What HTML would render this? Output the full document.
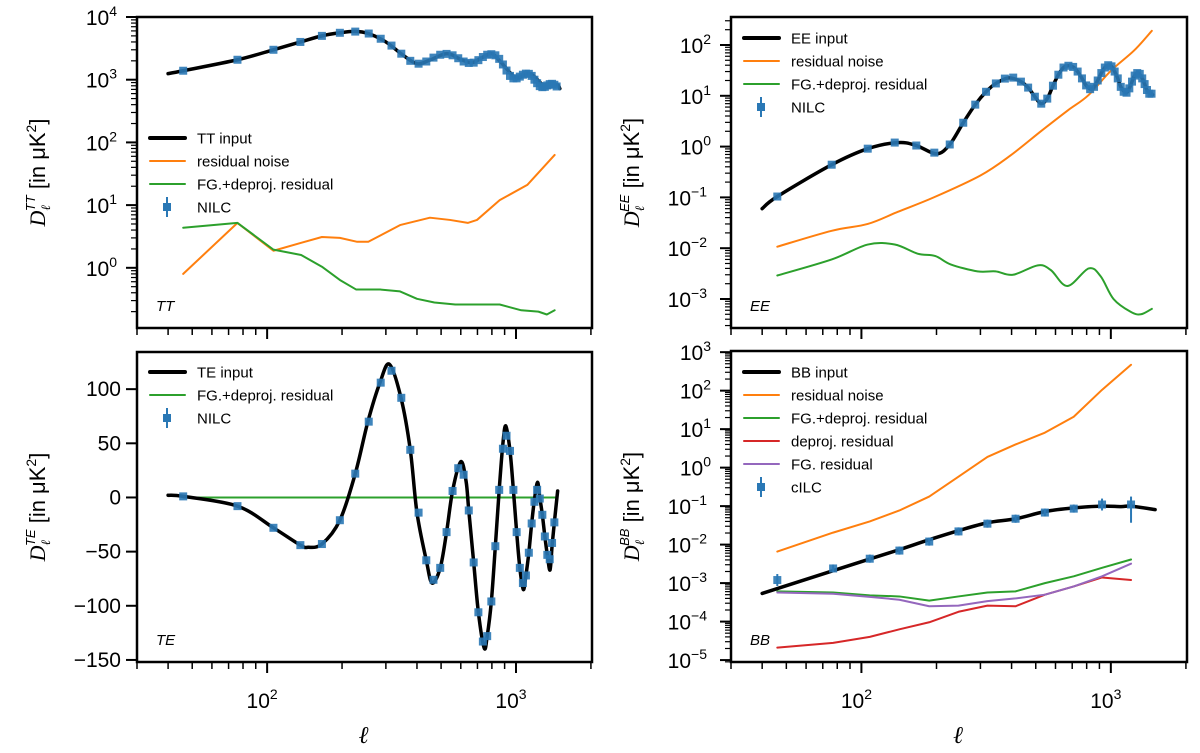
<!DOCTYPE html>
<html><head><meta charset="utf-8">
<style>
html,body{margin:0;padding:0;background:#fff;}
svg{display:block;font-family:"Liberation Sans","DejaVu Sans",sans-serif;}
</style></head>
<body>
<svg id="fig" width="1200" height="753" viewBox="0 0 1200 753" xmlns="http://www.w3.org/2000/svg"></svg>
<script>
// ---- data ----
const nilcEll = [46,76,106,136,166,196,226,256,286,316,346,376,406,436,466,496,526,556,586,616,646,676,706,736,766,796,826,856,886,916,946,976,1006,1036,1066,1096,1126,1156,1186,1216,1246,1276,1306,1336,1366,1396,1426,1456];

const ttInputEll = [40,46,76,106,136,166,196,225,255,300,350,400,450,528,600,665,730,800,870,1000,1140,1310,1460,1500];
const ttInputVal = [1250,1390,2080,3000,4000,5000,5600,5900,5450,4000,2500,1800,2050,2600,2100,1870,2250,2600,1900,1080,1250,775,830,720];
const ttNilc = [1390,2080,3000,4000,5000,5600,5850,5450,4500,3500,2600,2000,1800,1950,2250,2500,2580,2450,2200,1950,1850,1870,2050,2300,2500,2550,2450,2150,1750,1400,1150,1050,1050,1120,1200,1250,1240,1150,1000,880,790,760,770,810,850,860,830,780];
const ttNoiseEll = [46,76,106,137,166,196,230,255,342,451,543,640,697,860,1110,1430];
const ttNoiseVal = [0.8,5.2,1.87,2.5,3.1,3.0,2.6,2.6,4.8,6.3,5.8,5.2,5.8,12,21,63];
const ttFgEll = [46,76,106,137,166,196,228,285,342,400,470,570,860,1050,1230,1330,1430];
const ttFgVal = [4.35,5.2,1.95,1.6,1.04,0.64,0.45,0.45,0.42,0.32,0.28,0.26,0.26,0.21,0.2,0.18,0.21];

const eeInputEll = [40,46,76,106,140,166,200,226,256,286,316,346,390,436,466,496,525,556,586,616,646,676,706,736,766,796,830,856,886,916,946,980,1006,1036,1066,1096,1150,1186,1216,1246,1290,1336,1366,1396,1470];
const eeInputVal = [0.06,0.104,0.44,0.91,1.2,1.05,0.72,1.1,2.95,6.7,12,17.5,22.5,19,14.5,9.6,7,8.8,15.8,26,36,39,37,30,22,16,13.5,15,20,28,36,40,38,30,22,15,11.5,14,19,25,28,22,17,13,10.5];
const eeNilc = [0.104,0.44,0.91,1.2,1.05,0.76,1.1,2.95,6.7,12,17.5,21.8,22.8,19,14.5,9.6,7,8.8,15.8,26,36,39,37,30,22,16,13.5,15,20,28,36,40,38,30,22,15,12,11.5,14,19,25,28,27,22,17,13,11,11];
const eeNoiseEll = [46,76,106,140,195,300,396,524,670,810,1000,1240,1460];
const eeNoiseVal = [0.0107,0.022,0.030,0.052,0.1,0.27,0.67,2.0,5.1,10.1,31,78,190];
const eeFgEll = [46,76,106,136,168,198,228,292,345,405,510,575,670,815,910,1025,1200,1320,1460];
const eeFgVal = [0.0029,0.006,0.0118,0.0118,0.0078,0.007,0.0048,0.0035,0.0035,0.003,0.0046,0.0037,0.0018,0.004,0.0028,0.001,0.00056,0.0005,0.00064];

const teInputEll = [40,46,76,106,136,146,166,196,226,254,284,310,345,376,400,436,460,496,526,556,600,630,646,676,706,745,766,796,826,856,886,910,946,976,1006,1036,1070,1096,1126,1156,1186,1220,1246,1276,1306,1336,1370,1396,1426,1470];
const teInputVal = [2,1,-8,-28,-44,-46,-43,-21,22,70,106,123,92,44,-14,-58,-79,-65,-32,6,33,15,-12,-60,-106,-139,-128,-96,-45,7,50,66,43,7,-32,-65,-85,-72,-51,-24,-2,14,0,-16,-36,-53,-67,-45,-23,6];
const teNilc = [1,-8,-28,-44,-43,-21,22,70,106,117,92,44,-14,-58,-76,-65,-32,6,27,21,-12,-60,-106,-133,-128,-96,-45,7,45,57,43,7,-32,-65,-79,-72,-51,-24,-4,7,-1,-16,-36,-53,-57,-42,-23];
const teFgEll = [46,1456];
const teFgVal = [0,0];

const bbInputEll = [40,77,109,142,187,245,320,416,543,710,922,1100,1205,1505];
const bbInputVal = [5.4e-4,2.1e-3,4.3e-3,7.4e-3,0.0134,0.023,0.037,0.047,0.072,0.09,0.10,0.097,0.10,0.081];
const bbEll = [46,77,108,142,187,245,320,415,544,710,922,1205];
const bbCilc = [1.2e-3,2.4e-3,4.3e-3,7.0e-3,0.012,0.022,0.035,0.047,0.068,0.086,0.11,0.11];
const bbCilcLo = [8.4e-4,1.9e-3,3.4e-3,5.5e-3,9.4e-3,0.0173,0.0276,0.037,0.054,0.068,0.077,0.037];
const bbCilcHi = [1.72e-3,3.05e-3,5.5e-3,8.9e-3,0.0152,0.028,0.0445,0.06,0.086,0.11,0.157,0.177];
const bbNoise = [6.6e-3,0.0205,0.04,0.077,0.177,0.58,1.9,4.0,8.1,21,105,470];
const bbFgDeproj = [6.1e-4,5.7e-4,4.8e-4,4.5e-4,3.5e-4,4.5e-4,5.7e-4,6.1e-4,1.0e-3,1.5e-3,2.5e-3,4.1e-3];
const bbDeproj = [2.1e-5,2.8e-5,4.0e-5,6.3e-5,9.6e-5,1.8e-4,2.6e-4,2.5e-4,5.0e-4,8.2e-4,1.4e-3,1.2e-3];
const bbFg = [5.7e-4,5.3e-4,4.4e-4,3.7e-4,2.5e-4,2.6e-4,3.4e-4,4.0e-4,5.0e-4,8.2e-4,1.5e-3,3.2e-3];

// ---- rendering ----
const NS = 'http://www.w3.org/2000/svg';
const svg = document.getElementById('fig');
const C = {blue:'#2a78b5', orange:'#ff7f0e', green:'#2ca02c', red:'#d62728', purple:'#9467bd'};
function mk(tag, attrs, parent){ const e=document.createElementNS(NS,tag); for(const k in attrs) e.setAttribute(k,attrs[k]); (parent||svg).appendChild(e); return e; }
const XMIN=30, XMAX=2020;
function makePanel(o){
  const p = Object.assign({}, o);
  p.xs = l => p.x0 + (Math.log10(l)-Math.log10(XMIN))/(Math.log10(XMAX)-Math.log10(XMIN))*(p.x1-p.x0);
  p.ys = p.log ? v => p.y0 + (Math.log10(p.ymax)-Math.log10(v))/(Math.log10(p.ymax)-Math.log10(p.ymin))*(p.y1-p.y0)
               : v => p.y0 + (p.ymax-v)/(p.ymax-p.ymin)*(p.y1-p.y0);
  p.g = mk('g',{});
  
  
  const cp = mk('clipPath',{id:'clip-'+o.name}, p.g);
  mk('rect',{x:p.x0,y:p.y0,width:p.x1-p.x0,height:p.y1-p.y0}, cp);
  p.plot = mk('g',{'clip-path':'url(#clip-'+o.name+')'}, p.g);
  return p;
}
function catmull(pts){
  let d='M'+pts[0][0].toFixed(2)+','+pts[0][1].toFixed(2);
  for(let i=0;i<pts.length-1;i++){
    const p0=pts[i-1]||pts[i], p1=pts[i], p2=pts[i+1], p3=pts[i+2]||pts[i+1];
    const c1=[p1[0]+(p2[0]-p0[0])/6, p1[1]+(p2[1]-p0[1])/6];
    const c2=[p2[0]-(p3[0]-p1[0])/6, p2[1]-(p3[1]-p1[1])/6];
    d+=' C'+c1[0].toFixed(2)+','+c1[1].toFixed(2)+' '+c2[0].toFixed(2)+','+c2[1].toFixed(2)+' '+p2[0].toFixed(2)+','+p2[1].toFixed(2);
  }
  return d;
}
function line(p, ell, val, color, w, smooth, name){
  const pts = ell.map((l,i)=>[p.xs(l), p.ys(val[i])]);
  const d = smooth ? catmull(pts) : 'M'+pts.map(q=>q[0].toFixed(2)+','+q[1].toFixed(2)).join(' L');
  const e = mk('path',{d:d, fill:'none', stroke:color, 'stroke-width':w, 'stroke-linejoin':'round','stroke-linecap':'round'}, p.plot);
  
  
}
function points(p, ell, val, lo, hi, name){
  const g = mk('g',{}, p.plot);
  
  
  ell.forEach((l,i)=>{
    const x=p.xs(l), y=p.ys(val[i]);
    if(lo){ mk('line',{x1:x,x2:x,y1:p.ys(lo[i]),y2:p.ys(hi[i]),stroke:C.blue,'stroke-width':2}, g); }
    const r = mk('rect',{x:x-4,y:y-4,width:8,height:8,fill:C.blue,'fill-opacity':0.9}, g);
    
    
  });
}
function sup(t, base, exp){
  t.textContent = base;
  const s = mk('tspan',{dy:-9,'font-size':14}, t); s.textContent = exp;
}
function axes(p, showXLabels){
  const fr = mk('rect',{x:p.x0,y:p.y0,width:p.x1-p.x0,height:p.y1-p.y0,fill:'none',stroke:'#000','stroke-width':2.5}, p.g);
  
  
  // x ticks
  const xt = mk('g',{stroke:'#000','stroke-width':1.5}, p.g);
  
  
  for(let dec=1; dec<=3; dec++){
    for(let m=1;m<=9;m++){
      const l = m*Math.pow(10,dec);
      if(l<XMIN-0.5||l>XMAX) continue;
      const x=p.xs(l), len = m===1?10:6;
      mk('line',{x1:x,x2:x,y1:p.y1+1,y2:p.y1+1+len,'stroke-width':m===1?2:1.5}, xt);
    }
  }
  if(showXLabels){
    [2,3].forEach(dec=>{
      const t = mk('text',{x:p.xs(Math.pow(10,dec))-5,y:708,'font-size':21,'text-anchor':'middle'}, p.g);
      
      
      sup(t,'10',String(dec));
    });
    const xl = mk('text',{x:(p.x0+p.x1)/2-1,y:743,'font-size':24,'font-style':'italic','text-anchor':'middle','font-family':'"DejaVu Serif",serif'}, p.g);
    
    
    xl.textContent='ℓ';
  }
  // y ticks
  const yt = mk('g',{stroke:'#000'}, p.g);
  
  
  if(p.log){
    const lo=Math.floor(Math.log10(p.ymin)), hi=Math.ceil(Math.log10(p.ymax));
    for(let dec=lo; dec<=hi; dec++){
      for(let m=1;m<=9;m++){
        const v=m*Math.pow(10,dec);
        if(v<p.ymin*0.999||v>p.ymax*1.001) continue;
        const y=p.ys(v), len=m===1?10:5;
        mk('line',{x1:p.x0-1-len,x2:p.x0-1,y1:y,y2:y,'stroke-width':m===1?2:1.2}, yt);
        if(m===1){
          const t = mk('text',{x:p.x0-30,y:y+8,'font-size':21,'text-anchor':'end'}, p.g);
          
          
          sup(t,'10', dec<0 ? '−'+(-dec) : String(dec));
          t.setAttribute('x', p.x0-14 - (dec<0?10:6)+ (dec<0?0:0));
          t.setAttribute('text-anchor','end');
        }
      }
    }
  } else {
    p.ticks.forEach(v=>{
      const y=p.ys(v);
      mk('line',{x1:p.x0-11,x2:p.x0-1,y1:y,y2:y,'stroke-width':2}, yt);
      const t = mk('text',{x:p.x0-16,y:y+7,'font-size':21,'text-anchor':'end'}, p.g);
      
      
      t.textContent = v<0 ? '−'+(-v) : String(v);
    });
  }
  // y title
  const cx = p.x0-92, cy=(p.y0+p.y1)/2;
  const t = mk('text',{x:cx,y:cy,'font-size':22,'text-anchor':'middle',transform:'rotate(-90 '+cx+' '+cy+')'}, p.g);
  
  
  const a = mk('tspan',{'font-style':'italic','font-family':'"Liberation Serif",serif'}, t); a.textContent='D';
  const b = mk('tspan',{'font-size':13,dy:5,'font-style':'italic','font-family':'"DejaVu Serif",serif'}, t); b.textContent='ℓ';
  const c = mk('tspan',{'font-size':13,dy:-15,dx:-6,'font-style':'italic'}, t); c.textContent=p.spec;
  const d = mk('tspan',{dy:10}, t); d.textContent=' [in μK';
  const e = mk('tspan',{dy:-9,'font-size':14}, t); e.textContent='2';
  const f = mk('tspan',{dy:9}, t); f.textContent=']';
  // panel label
  const pl = mk('text',{x:p.x0+19,y:p.y1-17,'font-size':15,'font-style':'italic'}, p.g);
  
  
  pl.textContent = p.spec;
}
function legend(p, lx, ly, items){
  const g = mk('g',{}, p.g);
  
  
  items.forEach((it,i)=>{
    const y = ly + i*23;
    const row = mk('g',{}, g);
    
    
    if(it.marker){
      mk('line',{x1:lx+17,x2:lx+17,y1:y-10,y2:y+10,stroke:C.blue,'stroke-width':2}, row);
      mk('rect',{x:lx+13,y:y-4,width:8,height:8,fill:C.blue}, row);
    } else {
      mk('line',{x1:lx,x2:lx+35,y1:y,y2:y,stroke:it.color,'stroke-width':it.w,'stroke-linecap':'round'}, row);
    }
    const t = mk('text',{x:lx+47,y:y+5.5,'font-size':15}, row);
    t.textContent = it.label;
  });
}

// Panels
const TT = makePanel({name:'tt-panel', spec:'TT', x0:137,x1:592,y0:17,y1:328, log:true, ymin:Math.pow(10,-0.96), ymax:1e4});
const EE = makePanel({name:'ee-panel', spec:'EE', x0:731,x1:1187,y0:17,y1:328, log:true, ymin:Math.pow(10,-3.571), ymax:Math.pow(10,2.551)});
const TE = makePanel({name:'te-panel', spec:'TE', x0:137,x1:592,y0:352,y1:662, log:false, ymin:-151.9, ymax:134.3, ticks:[100,50,0,-50,-100,-150]});
const BB = makePanel({name:'bb-panel', spec:'BB', x0:731,x1:1187,y0:351,y1:662, log:true, ymin:Math.pow(10,-5.05), ymax:Math.pow(10,3.03)});

// TT
line(TT, ttNoiseEll, ttNoiseVal, C.orange, 2, false, 'tt-residual-noise');
line(TT, ttFgEll, ttFgVal, C.green, 2, false, 'tt-fg-deproj-residual');
line(TT, ttInputEll, ttInputVal, '#000', 3.5, true, 'tt-input-line');
points(TT, nilcEll, ttNilc, null, null, 'tt-nilc-points');
axes(TT,false);
legend(TT,150,138,[{label:'TT input',color:'#000',w:4},{label:'residual noise',color:C.orange,w:2},{label:'FG.+deproj. residual',color:C.green,w:2},{label:'NILC',marker:true}]);

// EE
line(EE, eeNoiseEll, eeNoiseVal, C.orange, 2, true, 'ee-residual-noise');
line(EE, eeFgEll, eeFgVal, C.green, 2, true, 'ee-fg-deproj-residual');
line(EE, eeInputEll, eeInputVal, '#000', 3.5, true, 'ee-input-line');
points(EE, nilcEll, eeNilc, null, null, 'ee-nilc-points');
axes(EE,false);
legend(EE,744,38,[{label:'EE input',color:'#000',w:4},{label:'residual noise',color:C.orange,w:2},{label:'FG.+deproj. residual',color:C.green,w:2},{label:'NILC',marker:true}]);

// TE
line(TE, teFgEll, teFgVal, C.green, 2, false, 'te-fg-deproj-residual');
line(TE, teInputEll, teInputVal, '#000', 3.5, true, 'te-input-line');
points(TE, nilcEll.slice(0, teNilc.length), teNilc, null, null, 'te-nilc-points');
axes(TE,true);
legend(TE,150,372,[{label:'TE input',color:'#000',w:4},{label:'FG.+deproj. residual',color:C.green,w:2},{label:'NILC',marker:true}]);

// BB
line(BB, bbEll, bbNoise, C.orange, 2, false, 'bb-residual-noise');
line(BB, bbEll, bbDeproj, C.red, 2, false, 'bb-deproj-residual');
line(BB, bbEll, bbFgDeproj, C.green, 2, false, 'bb-fg-deproj-residual');
line(BB, bbEll, bbFg, C.purple, 2, false, 'bb-fg-residual');
line(BB, bbInputEll, bbInputVal, '#000', 3.5, true, 'bb-input-line');
points(BB, bbEll, bbCilc, bbCilcLo, bbCilcHi, 'bb-cilc-points');
axes(BB,true);
legend(BB,744,372,[{label:'BB input',color:'#000',w:4},{label:'residual noise',color:C.orange,w:2},{label:'FG.+deproj. residual',color:C.green,w:2},{label:'deproj. residual',color:C.red,w:2},{label:'FG. residual',color:C.purple,w:2},{label:'cILC',marker:true}]);
</script>
</body></html>
